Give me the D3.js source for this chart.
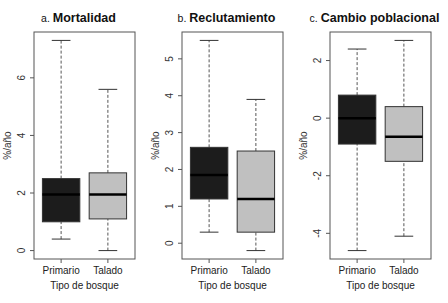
<!DOCTYPE html>
<html>
<head>
<meta charset="utf-8">
<script src="https://cdn.jsdelivr.net/npm/d3@7"></script>
<style>
  body { margin: 0; background: #fff; }
  svg { display: block; font-family: Arial, "Liberation Sans", sans-serif; }
</style>
</head>
<body>
<div id="chart"></div>
<script>
const width = 448;
const height = 303;

const groups = ["Primario", "Talado"];
const fills = ["#1c1c1c", "#c0c0c0"];

const letters = ["a.", "b.", "c."];
const titles = ["Mortalidad", "Reclutamiento", "Cambio poblacional"];

// [lowWhisker, q1, median, q3, highWhisker] per group
const mortalidad = [[0.4, 1.0, 1.95, 2.5, 7.3], [0.0, 1.1, 1.95, 2.7, 5.6]];
const reclutamiento = [[0.3, 1.2, 1.85, 2.6, 5.5], [-0.2, 0.3, 1.2, 2.5, 3.9]];
const cambio = [[-4.6, -0.9, 0.0, 0.8, 2.4], [-4.1, -1.5, -0.65, 0.4, 2.7]];
const panelStats = [mortalidad, reclutamiento, cambio];

const yTicks = [[0, 2, 4, 6], [0, 1, 2, 3, 4, 5], [-4, -2, 0, 2]];

const frameLeft = [34, 182, 330];
const frameW = 101;
const frameTop = 32;
const frameBottom = 259;

const svg = d3.select("#chart").append("svg")
  .attr("width", width).attr("height", height);

panelStats.forEach((stats, p) => {
  const g = svg.append("g");
  const x0 = frameLeft[p];

  const lo = d3.min(stats, d => d[0]);
  const hi = d3.max(stats, d => d[4]);
  const pad = (hi - lo) * 0.04;
  const y = d3.scaleLinear().domain([lo - pad, hi + pad]).range([frameBottom, frameTop]);
  const x = d3.scaleLinear().domain([0.42, 2.58]).range([x0, x0 + frameW]);
  const bw = (x(1.4) - x(0.6));

  // boxes
  stats.forEach((s, i) => {
    const cx = x(i + 1);
    const dash = "3,2";
    g.append("line").attr("x1", cx).attr("x2", cx).attr("y1", y(s[0])).attr("y2", y(s[1]))
      .attr("stroke", "#555").attr("stroke-dasharray", dash);
    g.append("line").attr("x1", cx).attr("x2", cx).attr("y1", y(s[3])).attr("y2", y(s[4]))
      .attr("stroke", "#555").attr("stroke-dasharray", dash);
    [s[0], s[4]].forEach(v => {
      g.append("line").attr("x1", cx - bw / 4).attr("x2", cx + bw / 4)
        .attr("y1", y(v)).attr("y2", y(v)).attr("stroke", "#333");
    });
    g.append("rect")
      .attr("x", cx - bw / 2).attr("width", bw)
      .attr("y", y(s[3])).attr("height", y(s[1]) - y(s[3]))
      .attr("fill", fills[i]).attr("stroke", "#333");
    g.append("line").attr("x1", cx - bw / 2).attr("x2", cx + bw / 2)
      .attr("y1", y(s[2])).attr("y2", y(s[2]))
      .attr("stroke", "#000").attr("stroke-width", 2.5);
  });

  // frame
  g.append("rect").attr("x", x0).attr("y", frameTop)
    .attr("width", frameW).attr("height", frameBottom - frameTop)
    .attr("fill", "none").attr("stroke", "#555");

  // y axis
  yTicks[p].forEach(t => {
    g.append("line").attr("x1", x0 - 4).attr("x2", x0)
      .attr("y1", y(t)).attr("y2", y(t)).attr("stroke", "#555");
    g.append("text")
      .attr("transform", `translate(${x0 - 9},${y(t)}) rotate(-90)`)
      .attr("text-anchor", "middle")
      .attr("font-size", 10).attr("fill", "#333")
      .text(t < 0 ? "-" + Math.abs(t) : t);
  });

  g.append("text")
    .attr("transform", `translate(${x0 - 23},${(frameTop + frameBottom) / 2}) rotate(-90)`)
    .attr("text-anchor", "middle")
    .attr("font-size", 10).attr("fill", "#333")
    .text("%/año");

  // x axis
  groups.forEach((name, i) => {
    g.append("line").attr("x1", x(i + 1)).attr("x2", x(i + 1))
      .attr("y1", frameBottom).attr("y2", frameBottom + 4).attr("stroke", "#555");
    g.append("text").attr("x", x(i + 1)).attr("y", 274)
      .attr("text-anchor", "middle").attr("font-size", 10).attr("fill", "#222")
      .text(name);
  });
  g.append("text").attr("x", x0 + frameW / 2).attr("y", 289)
    .attr("text-anchor", "middle").attr("font-size", 10).attr("fill", "#222")
    .text("Tipo de bosque");

  // title
  const t = g.append("text").attr("x", x0 + frameW / 2 - 6).attr("y", 22)
    .attr("text-anchor", "middle").attr("fill", "#111");
  t.append("tspan").attr("font-size", 10.5).text(letters[p] + " ");
  t.append("tspan").attr("font-size", 12.5).attr("font-weight", "bold").text(titles[p]);
});
</script>
</body>
</html>
